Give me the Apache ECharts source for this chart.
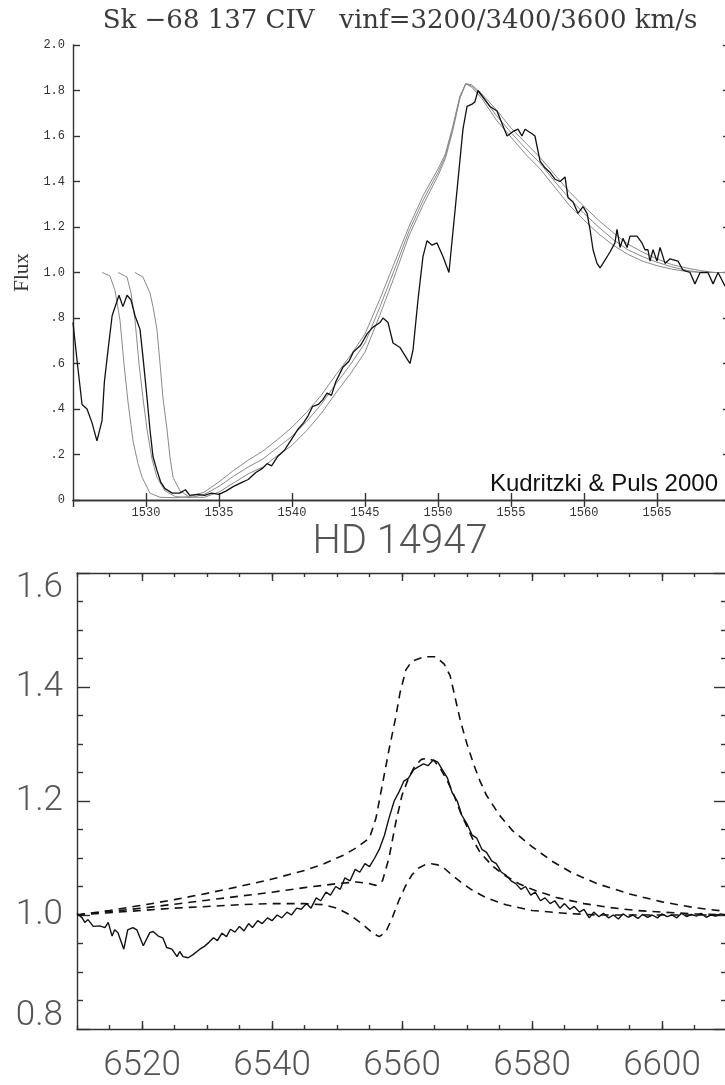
<!DOCTYPE html>
<html><head><meta charset="utf-8">
<script src="https://cdn.jsdelivr.net/npm/echarts@6/dist/echarts.min.js"></script>
<style>html,body{margin:0;padding:0;background:#fff;overflow:hidden;width:725px;height:1085px}
#c{width:745px;height:1085px}</style></head><body><div id="c"></div>
<script>
// ---------- Top panel: Sk -68 137 C IV ----------
const topTitle = 'Sk \u221268 137 CIV   vinf=3200/3400/3600 km/s';
const topYLabel = 'Flux';
const topXTicks = [1530, 1535, 1540, 1545, 1550, 1555, 1560, 1565];
const citation = 'Kudritzki & Puls 2000';

// observed C IV profile [wavelength, flux]
const obsCIV = [[1525.0,0.78],[1525.3,0.60],[1525.62,0.42],[1525.96,0.40],[1526.3,0.34],[1526.64,0.26],[1526.99,0.35],[1527.15,0.52],[1527.4,0.66],[1527.68,0.81],[1528.15,0.90],[1528.42,0.85],[1528.7,0.90],[1528.97,0.88],[1529.25,0.81],[1529.59,0.75],[1529.79,0.63],[1530.07,0.45],[1530.27,0.31],[1530.48,0.19],[1530.75,0.13],[1531.0,0.08],[1531.3,0.05],[1531.8,0.03],[1532.3,0.03],[1532.7,0.045],[1533.0,0.02],[1533.5,0.025],[1534.0,0.02],[1534.5,0.03],[1535.0,0.025],[1535.5,0.04],[1536.0,0.06],[1536.5,0.075],[1537.0,0.09],[1537.5,0.12],[1538.0,0.14],[1538.3,0.16],[1538.6,0.15],[1539.0,0.19],[1539.5,0.22],[1540.0,0.27],[1540.4,0.31],[1540.8,0.34],[1541.1,0.37],[1541.4,0.41],[1541.8,0.42],[1542.1,0.44],[1542.4,0.47],[1542.7,0.46],[1543.0,0.52],[1543.5,0.585],[1543.9,0.61],[1544.2,0.65],[1544.7,0.68],[1545.14,0.73],[1545.55,0.76],[1546.03,0.78],[1546.23,0.80],[1546.58,0.78],[1546.92,0.69],[1547.4,0.67],[1547.88,0.62],[1548.08,0.60],[1548.29,0.66],[1548.63,0.88],[1548.97,1.07],[1549.25,1.14],[1549.59,1.12],[1549.93,1.13],[1550.34,1.07],[1550.75,1.00],[1551.3,1.36],[1551.71,1.63],[1551.99,1.73],[1552.33,1.74],[1552.53,1.75],[1552.74,1.80],[1553.56,1.73],[1554.04,1.71],[1554.73,1.60],[1555.14,1.62],[1555.48,1.63],[1555.75,1.60],[1555.96,1.63],[1556.44,1.61],[1556.64,1.60],[1556.99,1.49],[1557.33,1.46],[1557.67,1.44],[1558.01,1.41],[1558.36,1.40],[1558.7,1.42],[1558.9,1.33],[1559.25,1.31],[1559.59,1.26],[1559.93,1.29],[1560.21,1.26],[1560.41,1.19],[1560.62,1.10],[1560.89,1.04],[1561.1,1.02],[1561.3,1.04],[1561.78,1.09],[1562.12,1.13],[1562.26,1.19],[1562.47,1.11],[1562.67,1.15],[1562.95,1.11],[1563.15,1.16],[1563.63,1.16],[1563.97,1.13],[1564.18,1.10],[1564.38,1.10],[1564.52,1.05],[1564.73,1.10],[1565.0,1.05],[1565.21,1.11],[1565.55,1.04],[1565.89,1.06],[1566.44,1.05],[1566.78,1.01],[1567.26,1.00],[1567.6,0.95],[1567.95,1.00],[1568.49,1.00],[1568.84,0.95],[1569.18,1.00],[1569.66,0.94],[1570.0,0.97]];

// model profiles, vinf = 3600 / 3400 / 3200 km/s
const model3600 = [[1527.0,1.0],[1527.53,0.985],[1527.88,0.92],[1528.22,0.79],[1528.49,0.60],[1528.77,0.43],[1529.11,0.26],[1529.45,0.16],[1529.73,0.10],[1530.27,0.03],[1530.96,0.012],[1532.0,0.01],[1533.0,0.015],[1534.0,0.035],[1535.0,0.08],[1536.0,0.13],[1537.0,0.175],[1538.0,0.215],[1539.0,0.265],[1540.0,0.32],[1541.0,0.385],[1542.0,0.46],[1543.0,0.55],[1544.0,0.635],[1545.0,0.73],[1546.0,0.88],[1547.0,1.04],[1548.0,1.20],[1549.0,1.34],[1550.0,1.455],[1550.5,1.52],[1551.0,1.64],[1551.5,1.775],[1551.9,1.83],[1552.3,1.825],[1553.0,1.785],[1554.0,1.715],[1555.0,1.635],[1556.0,1.57],[1557.0,1.505],[1558.0,1.43],[1559.0,1.355],[1560.0,1.29],[1561.0,1.23],[1562.0,1.175],[1563.0,1.125],[1564.0,1.09],[1565.0,1.06],[1566.0,1.035],[1567.0,1.02],[1568.0,1.008],[1569.0,1.0],[1570.0,1.0]];
const model3400 = [[1528.08,1.0],[1528.7,0.98],[1528.97,0.91],[1529.25,0.79],[1529.52,0.60],[1529.79,0.45],[1530.07,0.31],[1530.41,0.18],[1530.75,0.10],[1531.3,0.04],[1532.0,0.015],[1533.0,0.01],[1534.0,0.025],[1535.0,0.06],[1536.0,0.105],[1537.0,0.145],[1538.0,0.18],[1539.0,0.23],[1540.0,0.28],[1541.0,0.345],[1542.0,0.42],[1543.0,0.51],[1544.0,0.595],[1545.0,0.69],[1546.0,0.845],[1547.0,1.01],[1548.0,1.18],[1549.0,1.32],[1550.0,1.44],[1550.5,1.51],[1551.0,1.63],[1551.5,1.77],[1551.9,1.83],[1552.3,1.82],[1553.0,1.775],[1554.0,1.69],[1555.0,1.615],[1556.0,1.545],[1557.0,1.48],[1558.0,1.40],[1559.0,1.325],[1560.0,1.26],[1561.0,1.20],[1562.0,1.145],[1563.0,1.10],[1564.0,1.07],[1565.0,1.045],[1566.0,1.025],[1567.0,1.01],[1568.0,1.0],[1570.0,1.0]];
const model3200 = [[1529.25,1.0],[1529.79,0.98],[1530.27,0.91],[1530.48,0.85],[1530.75,0.75],[1530.96,0.60],[1531.16,0.45],[1531.44,0.31],[1531.64,0.19],[1531.85,0.10],[1532.33,0.04],[1533.0,0.012],[1534.0,0.012],[1535.0,0.035],[1536.0,0.075],[1537.0,0.115],[1538.0,0.145],[1539.0,0.195],[1540.0,0.24],[1541.0,0.305],[1542.0,0.38],[1543.0,0.47],[1544.0,0.555],[1545.0,0.65],[1546.0,0.81],[1547.0,0.98],[1548.0,1.16],[1549.0,1.30],[1550.0,1.425],[1550.5,1.50],[1551.0,1.62],[1551.5,1.765],[1551.9,1.83],[1552.3,1.815],[1553.0,1.765],[1554.0,1.67],[1555.0,1.595],[1556.0,1.52],[1557.0,1.455],[1558.0,1.375],[1559.0,1.295],[1560.0,1.23],[1561.0,1.17],[1562.0,1.12],[1563.0,1.08],[1564.0,1.05],[1565.0,1.03],[1566.0,1.015],[1567.0,1.005],[1568.0,1.0],[1570.0,1.0]];

// ---------- Bottom panel: HD 14947 H-alpha ----------
const botTitle = 'HD 14947';
const botXTicks = [6520, 6540, 6560, 6580, 6600];

const obsHa = [[6510.0,1.003],[6510.8,0.995],[6511.2,0.987],[6511.7,0.992],[6512.5,0.98],[6513.5,0.981],[6514.3,0.978],[6514.8,0.987],[6515.4,0.963],[6515.8,0.974],[6516.3,0.969],[6517.2,0.94],[6517.8,0.974],[6518.6,0.978],[6519.2,0.974],[6520.2,0.946],[6521.2,0.969],[6521.7,0.971],[6522.5,0.963],[6523.2,0.96],[6523.8,0.943],[6524.6,0.94],[6525.4,0.927],[6525.8,0.936],[6526.3,0.927],[6527.1,0.925],[6527.8,0.93],[6528.9,0.94],[6529.6,0.945],[6530.3,0.952],[6531.0,0.96],[6531.6,0.955],[6532.3,0.968],[6533.0,0.962],[6533.6,0.975],[6534.3,0.97],[6535.0,0.98],[6535.7,0.972],[6536.4,0.985],[6537.0,0.978],[6537.8,0.99],[6538.5,0.985],[6539.3,0.995],[6540.0,0.99],[6540.8,1.0],[6541.5,0.995],[6542.3,1.005],[6543.0,1.0],[6543.8,1.012],[6544.5,1.01],[6545.3,1.02],[6546.0,1.012],[6546.8,1.03],[6547.5,1.025],[6548.3,1.04],[6549.0,1.035],[6549.8,1.05],[6550.5,1.045],[6551.2,1.065],[6552.0,1.06],[6552.8,1.08],[6553.5,1.075],[6554.3,1.09],[6555.0,1.085],[6555.8,1.10],[6556.5,1.115],[6557.3,1.14],[6558.0,1.17],[6558.8,1.20],[6559.5,1.215],[6560.3,1.235],[6561.0,1.24],[6561.8,1.255],[6562.5,1.26],[6563.3,1.265],[6564.0,1.262],[6564.8,1.272],[6565.5,1.268],[6566.2,1.255],[6567.0,1.24],[6567.7,1.215],[6568.5,1.20],[6569.2,1.175],[6570.0,1.16],[6570.8,1.14],[6571.5,1.135],[6572.3,1.115],[6573.0,1.11],[6573.8,1.095],[6574.5,1.09],[6575.3,1.075],[6576.0,1.07],[6576.8,1.06],[6577.5,1.055],[6578.3,1.045],[6579.0,1.05],[6579.8,1.035],[6580.5,1.04],[6581.3,1.025],[6582.0,1.03],[6582.8,1.02],[6583.5,1.025],[6584.3,1.012],[6585.0,1.02],[6585.8,1.01],[6586.5,1.015],[6587.3,1.005],[6588.0,1.01],[6588.8,0.995],[6589.5,1.005],[6590.3,0.997],[6591.0,1.003],[6591.8,0.995],[6592.5,1.0],[6593.3,0.993],[6594.0,1.002],[6594.8,0.996],[6595.5,1.0],[6596.3,0.994],[6597.0,1.001],[6597.8,0.996],[6598.5,1.0],[6599.3,0.995],[6600.0,1.002],[6600.8,0.997],[6601.5,1.0],[6602.3,0.995],[6603.0,1.003],[6603.8,0.997],[6604.5,1.001],[6605.3,0.998],[6606.0,1.003],[6606.8,0.996],[6607.5,1.0],[6608.3,0.998],[6609.0,1.002],[6610.0,1.0]];

const modelHigh = [[6510,1.0],[6515,1.008],[6520,1.017],[6525,1.027],[6530,1.038],[6535,1.05],[6540,1.063],[6545,1.078],[6548,1.09],[6551,1.105],[6553,1.118],[6555,1.135],[6556,1.17],[6557,1.23],[6558,1.29],[6559,1.345],[6559.7,1.39],[6560.6,1.43],[6561.5,1.445],[6563.4,1.453],[6565.2,1.453],[6566.5,1.44],[6567.4,1.42],[6568.2,1.38],[6569,1.34],[6570,1.30],[6571,1.265],[6572,1.235],[6573,1.21],[6575,1.175],[6577,1.148],[6580,1.12],[6583,1.095],[6586,1.075],[6590,1.055],[6595,1.037],[6600,1.023],[6605,1.013],[6610,1.006]];
const modelMid = [[6510,1.0],[6515,1.006],[6520,1.012],[6525,1.019],[6530,1.026],[6535,1.033],[6540,1.04],[6545,1.048],[6550,1.055],[6553,1.058],[6555,1.055],[6556,1.052],[6557,1.06],[6558,1.10],[6559,1.16],[6560,1.21],[6561,1.24],[6562,1.262],[6563,1.273],[6564,1.275],[6565,1.27],[6566,1.255],[6567,1.235],[6568,1.21],[6569,1.18],[6570,1.155],[6571,1.13],[6572,1.11],[6574,1.085],[6576,1.068],[6578,1.055],[6580,1.045],[6584,1.03],[6588,1.02],[6592,1.013],[6596,1.008],[6600,1.005],[6605,1.002],[6610,1.0]];
const modelLow = [[6510,1.0],[6515,1.004],[6520,1.008],[6525,1.012],[6530,1.015],[6535,1.018],[6540,1.02],[6545,1.02],[6548,1.018],[6550,1.012],[6552,1.0],[6554,0.983],[6555.5,0.968],[6556.5,0.962],[6557.5,0.97],[6558.5,0.995],[6559.5,1.025],[6560.5,1.05],[6561.5,1.07],[6562.5,1.082],[6563.5,1.088],[6564.5,1.09],[6565.5,1.088],[6566.5,1.082],[6567.5,1.072],[6569,1.058],[6571,1.042],[6573,1.03],[6576,1.018],[6580,1.008],[6585,1.003],[6590,1.0],[6600,1.0],[6610,1.0]];

// ---------- chart ----------
const frame = {color:'#333', width:1.4};
const monoFont = {fontFamily:'Liberation Mono', fontSize:12, color:'#333'};
const bigFont = {fontFamily:'Roboto', fontWeight:300, fontSize:35, color:'#555'};

function lineSeries(data, xi, yi, color, width, type){
  return {type:'line', data, xAxisIndex:xi, yAxisIndex:yi, showSymbol:false, symbol:'none',
    lineStyle:{color, width, type}, silent:true, z: 3};
}

const chart = echarts.init(document.getElementById('c'), null, {renderer:'canvas'});
chart.setOption({
  animation:false,
  backgroundColor:'#fff',
  grid:[
    {left:73, top:45, width:657, height:455},
    {left:77, top:573, width:650, height:456}
  ],
  xAxis:[
    {gridIndex:0, type:'value', position:'bottom', min:1525, max:1570, interval:5,
      axisLine:{lineStyle:frame}, splitLine:{show:false},
      axisTick:{inside:true, length:7, lineStyle:frame},
      axisLabel:Object.assign({margin:7, showMinLabel:false, showMaxLabel:false,
        formatter:v => topXTicks.includes(v) ? String(v) : ''}, monoFont)},
    {gridIndex:0, type:'value', position:'top', min:1525, max:1570, interval:5,
      axisLine:{lineStyle:frame}, splitLine:{show:false},
      axisTick:{inside:true, length:7, lineStyle:frame}, axisLabel:{show:false}},
    {gridIndex:1, type:'value', position:'bottom', min:6510, max:6610, interval:10,
      axisLine:{lineStyle:frame}, splitLine:{show:false},
      axisTick:{inside:true, length:8, lineStyle:frame, customValues:botXTicks},
      axisLabel:Object.assign({margin:20, customValues:botXTicks,
        formatter:v => String(v)}, bigFont)},
    {gridIndex:1, type:'value', position:'top', min:6510, max:6610, interval:10,
      axisLine:{lineStyle:frame}, splitLine:{show:false},
      axisTick:{inside:true, length:8, lineStyle:frame, customValues:botXTicks},
      axisLabel:{show:false}},
    {gridIndex:1, type:'value', position:'bottom', min:6510, max:6610, interval:5,
      axisLine:{show:false}, splitLine:{show:false},
      axisTick:{inside:true, length:4, lineStyle:frame}, axisLabel:{show:false}},
    {gridIndex:1, type:'value', position:'top', min:6510, max:6610, interval:5,
      axisLine:{show:false}, splitLine:{show:false},
      axisTick:{inside:true, length:4, lineStyle:frame}, axisLabel:{show:false}}
  ],
  yAxis:[
    {gridIndex:0, type:'value', position:'left', min:0, max:2, interval:0.2,
      axisLine:{lineStyle:frame}, splitLine:{show:false},
      axisTick:{inside:true, length:7, lineStyle:frame},
      axisLabel:Object.assign({margin:8, formatter:v => {
        const r = Math.round(v*10);
        if (r === 0) return '0';
        if (r < 10) return '.' + r;
        return (r/10).toFixed(1);
      }}, monoFont),
      name:topYLabel, nameLocation:'middle', nameRotate:90, nameGap:38,
      nameTextStyle:{fontFamily:'Liberation Serif', fontSize:21, color:'#333'}},
    {gridIndex:0, type:'value', position:'right', min:0, max:2, interval:0.2,
      axisLine:{lineStyle:frame}, splitLine:{show:false},
      axisTick:{inside:true, length:7, lineStyle:frame}, axisLabel:{show:false}},
    {gridIndex:1, type:'value', position:'left', min:0.8, max:1.6, interval:0.2,
      axisLine:{lineStyle:frame}, splitLine:{show:false},
      axisTick:{inside:true, length:13, lineStyle:frame},
      minorTick:{show:true, splitNumber:4, length:6, lineStyle:frame},
      axisLabel:Object.assign({margin:14, formatter:v => {
        const s = v.toFixed(1);
        if (Math.abs(v-1.6) < 1e-6) return '{t|' + s + '}';
        if (Math.abs(v-0.8) < 1e-6) return '{b|' + s + '}';
        return s;
      }, rich:{
        t:Object.assign({padding:[30,0,0,0]}, bigFont),
        b:Object.assign({padding:[0,0,26,0]}, bigFont)
      }}, bigFont)},
    {gridIndex:1, type:'value', position:'right', min:0.8, max:1.6, interval:0.2,
      axisLine:{lineStyle:frame}, splitLine:{show:false},
      axisTick:{inside:true, length:13, lineStyle:frame},
      minorTick:{show:true, splitNumber:4, length:6, lineStyle:frame},
      axisLabel:{show:false}}
  ],
  series:[
    lineSeries(model3600, 0, 0, '#8a8a8a', 1, 'solid'),
    lineSeries(model3400, 0, 0, '#8a8a8a', 1, 'solid'),
    lineSeries(model3200, 0, 0, '#8a8a8a', 1, 'solid'),
    lineSeries(obsCIV, 0, 0, '#111', 1.3, 'solid'),
    lineSeries(modelHigh, 2, 2, '#111', 1.6, [8,6]),
    lineSeries(modelMid, 2, 2, '#111', 1.6, [8,6]),
    lineSeries(modelLow, 2, 2, '#111', 1.6, [8,6]),
    lineSeries(obsHa, 2, 2, '#111', 1.4, 'solid')
  ],
  graphic:[
    {type:'text', x:400, y:21, style:{text:topTitle, fontFamily:'DejaVu Serif', fontSize:26,
      fill:'#3a3a3a', align:'center', verticalAlign:'middle'}},
    {type:'text', x:718, y:496, style:{text:citation, fontFamily:'Liberation Sans', fontSize:24,
      fill:'#111', align:'right', verticalAlign:'bottom'}},
    {type:'text', x:400, y:543, style:{text:botTitle, fontFamily:'Roboto', fontWeight:300, fontSize:40,
      fill:'#555', align:'center', verticalAlign:'middle'}}
  ]
});
</script></body></html>
